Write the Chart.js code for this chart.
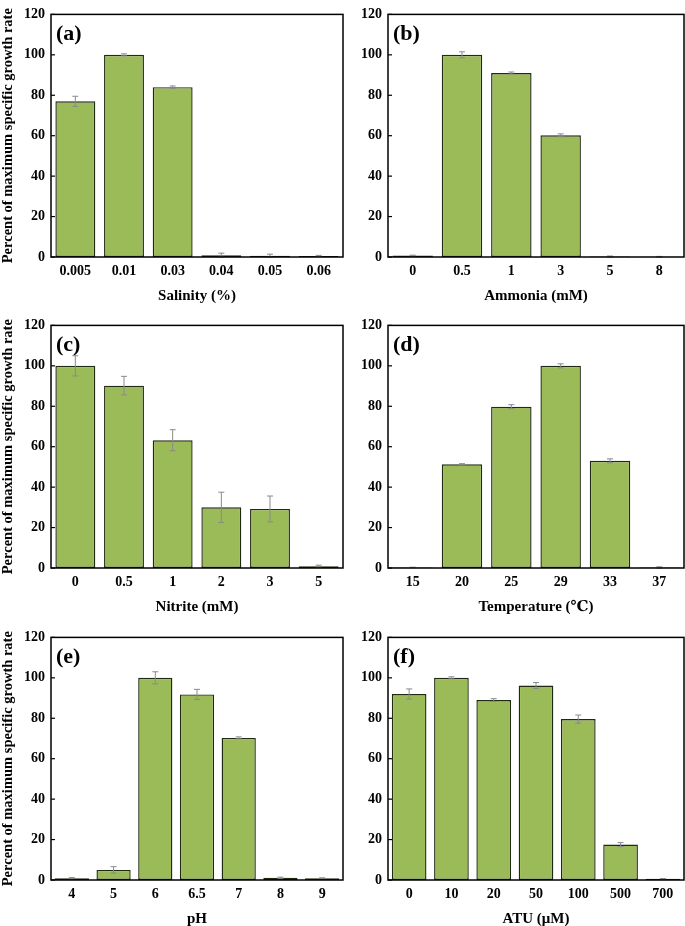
<!DOCTYPE html>
<html>
<head>
    <meta charset="utf-8" />
    <title>Growth rate panels</title>
    <style>
        html, body {
            margin: 0;
            padding: 0;
            background: #ffffff;
            overflow: hidden;
        }

        #page {
            position: relative;
            width: 685px;
            height: 926px;
        }

        canvas {
            position: absolute;
        }
    </style>
</head>
<body>
    <div id="page">
        <canvas id="chartA" width="345" height="305" style="left:0px;top:0px"></canvas>
        <canvas id="chartB" width="340" height="305" style="left:345px;top:0px"></canvas>
        <canvas id="chartC" width="345" height="305" style="left:0px;top:311px"></canvas>
        <canvas id="chartD" width="340" height="305" style="left:345px;top:311px"></canvas>
        <canvas id="chartE" width="345" height="305" style="left:0px;top:623px"></canvas>
        <canvas id="chartF" width="340" height="305" style="left:345px;top:623px"></canvas>
    </div>

    <script src="https://cdn.jsdelivr.net/npm/chart.js"></script>
    <script>
        // values (percent of max specific growth rate)
        const salinityLabels = ['0.005', '0.01', '0.03', '0.04', '0.05', '0.06'];
        const salinityValues = [77, 100, 84, 0.9, 0.6, 0.5];
        const salinityErrors = [2.5, 0.5, 0.6, 1, 0.8, 0.3];

        const ammoniaLabels = ['0', '0.5', '1', '3', '5', '8'];
        const ammoniaValues = [0.7, 100, 91, 60.2, 0.2, 0.1];
        const ammoniaErrors = [0.2, 1.5, 0.5, 0.7, 0.3, 0.2];

        const nitriteLabels = ['0', '0.5', '1', '2', '3', '5'];
        const nitriteValues = [100, 90.2, 63.2, 30, 29.2, 0.9];
        const nitriteErrors = [5, 4.6, 5.2, 7.5, 6.4, 0.5];

        const temperatureLabels = ['15', '20', '25', '29', '33', '37'];
        const temperatureValues = [0.3, 51.3, 79.8, 100, 53, 0.3];
        const temperatureErrors = [0.1, 0.3, 1, 1, 1, 0.3];

        const phLabels = ['4', '5', '6', '6.5', '7', '8', '9'];
        const phValues = [0.9, 5, 100, 91.8, 70.3, 1.1, 0.9];
        const phErrors = [0.3, 1.6, 3, 2.5, 0.5, 0.3, 0.2];

        const atuLabels = ['0', '10', '20', '50', '100', '500', '700'];
        const atuValues = [92, 100, 89, 96.2, 79.6, 17.5, 0.6];
        const atuErrors = [2.5, 0.5, 0.7, 1.5, 2, 1, 0.1];

        const yTicks = [0, 20, 40, 60, 80, 100, 120];

        Chart.defaults.font.family = "'Liberation Serif', 'DejaVu Serif', serif";
        Chart.defaults.font.weight = 'bold';
        Chart.defaults.color = '#000000';

        // box round the plot area, inward y ticks, error bars, panel letter
        const panelDecor = {
            id: 'panelDecor',
            afterDatasetsDraw(chart, args, opts) {
                const ctx = chart.ctx;
                const area = chart.chartArea;
                const y = chart.scales.y;
                const ds = chart.data.datasets[0];
                const meta = chart.getDatasetMeta(0);

                ctx.save();
                // error bars
                ctx.strokeStyle = '#8a8a8a';
                ctx.lineWidth = 1;
                meta.data.forEach((bar, i) => {
                    const v = ds.data[i];
                    const e = ds.errors[i];
                    const yHi = y.getPixelForValue(v + e);
                    const yLo = y.getPixelForValue(Math.max(0, v - e));
                    ctx.beginPath();
                    ctx.moveTo(bar.x, yHi);
                    ctx.lineTo(bar.x, yLo);
                    ctx.moveTo(bar.x - 3, yHi);
                    ctx.lineTo(bar.x + 3, yHi);
                    ctx.moveTo(bar.x - 3, yLo);
                    ctx.lineTo(bar.x + 3, yLo);
                    ctx.stroke();
                });

                // frame
                ctx.strokeStyle = '#000000';
                ctx.lineWidth = 1.5;
                ctx.strokeRect(area.left, area.top, area.right - area.left, area.bottom - area.top);

                // inward ticks on the y axis
                ctx.lineWidth = 1.2;
                yTicks.forEach(t => {
                    const py = y.getPixelForValue(t);
                    ctx.beginPath();
                    ctx.moveTo(area.left, py);
                    ctx.lineTo(area.left + 4, py);
                    ctx.stroke();
                });

                // panel letter
                ctx.fillStyle = '#000000';
                ctx.font = "bold 22px 'Liberation Serif', serif";
                ctx.textAlign = 'left';
                ctx.textBaseline = 'middle';
                ctx.fillText(opts.letter, area.left + 5, area.top + 20);
                ctx.restore();
            }
        };

        function makePanel(id, letter, labels, values, errors, xTitle, leftColumn) {
            const ctx = document.getElementById(id).getContext('2d');
            return new Chart(ctx, {
                type: 'bar',
                data: {
                    labels: labels,
                    datasets: [{
                        data: values,
                        errors: errors,
                        backgroundColor: '#9bbb59',
                        borderColor: '#1f2a12',
                        borderWidth: 1.4,
                        borderSkipped: false,
                        barPercentage: 0.82,
                        categoryPercentage: 1
                    }]
                },
                options: {
                    responsive: false,
                    animation: false,
                    layout: {
                        padding: { top: 5, right: leftColumn ? 2 : 1, bottom: 0, left: 0 }
                    },
                    plugins: {
                        legend: { display: false },
                        tooltip: { enabled: false },
                        panelDecor: { letter: letter }
                    },
                    scales: {
                        x: {
                            grid: { display: false, drawTicks: false },
                            border: { display: false },
                            ticks: {
                                font: { size: 14, weight: 'bold' },
                                padding: 6,
                                maxRotation: 0,
                                autoSkip: false
                            },
                            title: {
                                display: true,
                                text: xTitle,
                                font: { size: 15, weight: 'bold' },
                                padding: { top: 1, bottom: 0 }
                            },
                            afterFit(scale) {
                                scale.height = 48;
                            }
                        },
                        y: {
                            min: 0,
                            max: 120,
                            grid: { display: false, drawTicks: false },
                            border: { display: false },
                            ticks: {
                                stepSize: 20,
                                font: { size: 14, weight: 'bold' },
                                padding: 6
                            },
                            title: {
                                display: leftColumn,
                                text: 'Percent of maximum specific growth rate',
                                font: { size: 14.5, weight: 'bold' },
                                padding: { top: 0, bottom: 0 }
                            },
                            afterFit(scale) {
                                scale.width = leftColumn ? 51 : 43;
                            }
                        }
                    }
                },
                plugins: [panelDecor]
            });
        }

        makePanel('chartA', '(a)', salinityLabels, salinityValues, salinityErrors, 'Salinity (%)', true);
        makePanel('chartB', '(b)', ammoniaLabels, ammoniaValues, ammoniaErrors, 'Ammonia (mM)', false);
        makePanel('chartC', '(c)', nitriteLabels, nitriteValues, nitriteErrors, 'Nitrite (mM)', true);
        makePanel('chartD', '(d)', temperatureLabels, temperatureValues, temperatureErrors, 'Temperature (℃)', false);
        makePanel('chartE', '(e)', phLabels, phValues, phErrors, 'pH', true);
        makePanel('chartF', '(f)', atuLabels, atuValues, atuErrors, 'ATU (μM)', false);
    </script>
</body>
</html>
